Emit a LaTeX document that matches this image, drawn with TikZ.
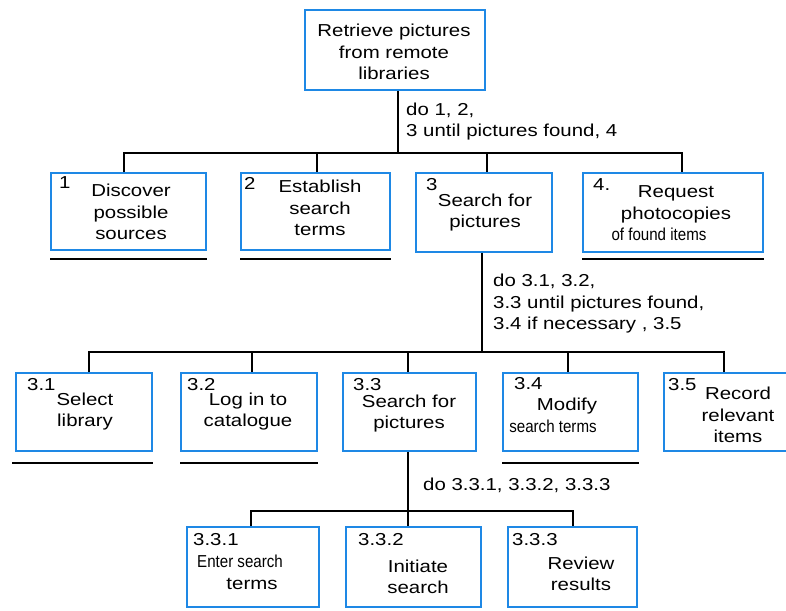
\documentclass[tikz,border=0pt]{standalone}
\usepackage{fontspec}
\setmainfont{Liberation Sans}[FakeStretch=1.18]
\usepackage{graphicx}
\usetikzlibrary{fit}
\definecolor{boxblue}{RGB}{30,136,229}
% horizontally squeezed text
\newcommand{\squeeze}[1]{\scalebox{0.74}[1]{#1}}
\begin{document}
\begin{tikzpicture}[x=1pt,y=-1pt,
  box/.style={draw=boxblue, line width=1.6pt, inner sep=0pt},
  conn/.style={draw=black, line width=1.8pt},
  uline/.style={draw=black, line width=2pt},
  txt/.style={inner sep=0pt, align=center, font=\fontsize{17.3}{21.5}\selectfont},
  num/.style={inner sep=0pt, anchor=west, font=\fontsize{17.3}{21.5}\selectfont},
  note/.style={inner sep=0pt, anchor=west, align=left, font=\fontsize{17.3}{21.5}\selectfont}]
\useasboundingbox[fill=white] (0,0) rectangle (786,610);

% ---------- boxes ----------
\node[box, fit={(305,10) (485,90)}] (top) {};
\node[box, fit={(51,173) (206,250)}] (b1) {};
\node[box, fit={(241,173) (390,250)}] (b2) {};
\node[box, fit={(416,173) (552,252)}] (b3) {};
\node[box, fit={(583,173) (763,252)}] (b4) {};
\node[box, fit={(16,373) (152,451)}] (s1) {};
\node[box, fit={(181,373) (317,451)}] (s2) {};
\node[box, fit={(343,373) (476,451)}] (s3) {};
\node[box, fit={(503,373) (638,451)}] (s4) {};
\node[box, fit={(664,373) (792,451)}] (s5) {};
\node[box, fit={(187,527) (319,607)}] (u1) {};
\node[box, fit={(346,527) (481,607)}] (u2) {};
\node[box, fit={(508,527) (637,607)}] (u3) {};

% ---------- box texts ----------
\node[txt] (ttop) at (394,52) {Retrieve pictures\\from remote\\libraries};
\node[txt] (tb1) at (131,212) {Discover\\possible\\sources};
\node[txt] (tb2) at (320,208) {Establish\\search\\terms};
\node[txt] (tb3) at (485,212.5) {Search for\\pictures};
\node[txt] (tb4) at (676,213.5) {Request\\photocopies\\\squeeze{of found items}\hspace*{34pt}};
\node[txt] (ts1) at (85,411.5) {Select\\library};
\node[txt] (ts2) at (248,411.5) {Log in to\\catalogue};
\node[txt] (ts3) at (409,413.5) {Search for\\pictures};
\node[txt] (ts4) at (560,415.5) {\hspace*{14pt}Modify\\\squeeze{search terms}\hspace*{14pt}};
\node[txt] (ts5) at (738,415) {Record\\relevant\\items};
\node[txt] (tu1) at (246,572.5) {\squeeze{Enter search}\hspace*{12pt}\\\hspace*{12pt}terms};
\node[txt] (tu2) at (418,577) {Initiate\\search};
\node[txt] (tu3) at (581,574) {Review\\results};

% ---------- numbers ----------
\node[num] (n1) at (59,183) {1};
\node[num] (n2) at (244,183) {2};
\node[num] (n3) at (426,185) {3};
\node[num] (n4) at (593,185) {4.};
\node[num] (n31) at (27,385) {3.1};
\node[num] (n32) at (187,385) {3.2};
\node[num] (n33) at (353,385) {3.3};
\node[num] (n34) at (514,384) {3.4};
\node[num] (n35) at (668,385) {3.5};
\node[num] (n331) at (193,540) {3.3.1};
\node[num] (n332) at (358,540) {3.3.2};
\node[num] (n333) at (512,540) {3.3.3};

% ---------- connectors, level 1 ----------
\coordinate (j0) at (398,153);
\coordinate (k1) at (124,153);
\coordinate (k2) at (317,153);
\coordinate (k3) at (487,153);
\coordinate (k4) at (682,153);
\draw[conn] (j0 |- top.south) -- (j0);
\draw[conn] (k1 |- b1.north) -- (k1) -- (k4) -- (k4 |- b4.north);
\draw[conn] (k2) -- (k2 |- b2.north);
\draw[conn] (k3) -- (k3 |- b3.north);

% ---------- connectors, level 2 ----------
\coordinate (j1) at (482,352);
\coordinate (m1) at (89,352);
\coordinate (m2) at (252,352);
\coordinate (m3) at (408,352);
\coordinate (m4) at (568,352);
\coordinate (m5) at (724,352);
\draw[conn] (j1 |- b3.south) -- (j1);
\draw[conn] (m1 |- s1.north) -- (m1) -- (m5) -- (m5 |- s5.north);
\draw[conn] (m2) -- (m2 |- s2.north);
\draw[conn] (m3) -- (m3 |- s3.north);
\draw[conn] (m4) -- (m4 |- s4.north);

% ---------- connectors, level 3 ----------
\coordinate (j2) at (408,511);
\coordinate (p1) at (251,511);
\coordinate (p3) at (573,511);
\draw[conn] (j2 |- s3.south) -- (j2 |- u2.north);
\draw[conn] (p1 |- u1.north) -- (p1) -- (p3) -- (p3 |- u3.north);

% ---------- underlines of leaf tasks ----------
\draw[uline] ([yshift=-8pt]b1.south west) -- ([yshift=-8pt]b1.south east);
\draw[uline] ([yshift=-8pt]b2.south west) -- ([yshift=-8pt]b2.south east);
\draw[uline] ([yshift=-6pt]b4.south west) -- ([yshift=-6pt]b4.south east);
\draw[uline] ([xshift=-3pt,yshift=-11pt]s1.south west) -- ([yshift=-11pt]s1.south east);
\draw[uline] ([yshift=-11pt]s2.south west) -- ([yshift=-11pt]s2.south east);
\draw[uline] ([yshift=-11pt]s4.south west) -- ([yshift=-11pt]s4.south east);

% ---------- plans ----------
\node[note] (plan0) at (406,121.5) {do 1, 2,\\3 until pictures found, 4};
\node[note] (plan3) at (493,304) {do 3.1, 3.2,\\3.3 until pictures found,\\3.4 if necessary , 3.5};
\node[note] (plan33) at (423,485) {do 3.3.1, 3.3.2, 3.3.3};
\end{tikzpicture}
\end{document}
